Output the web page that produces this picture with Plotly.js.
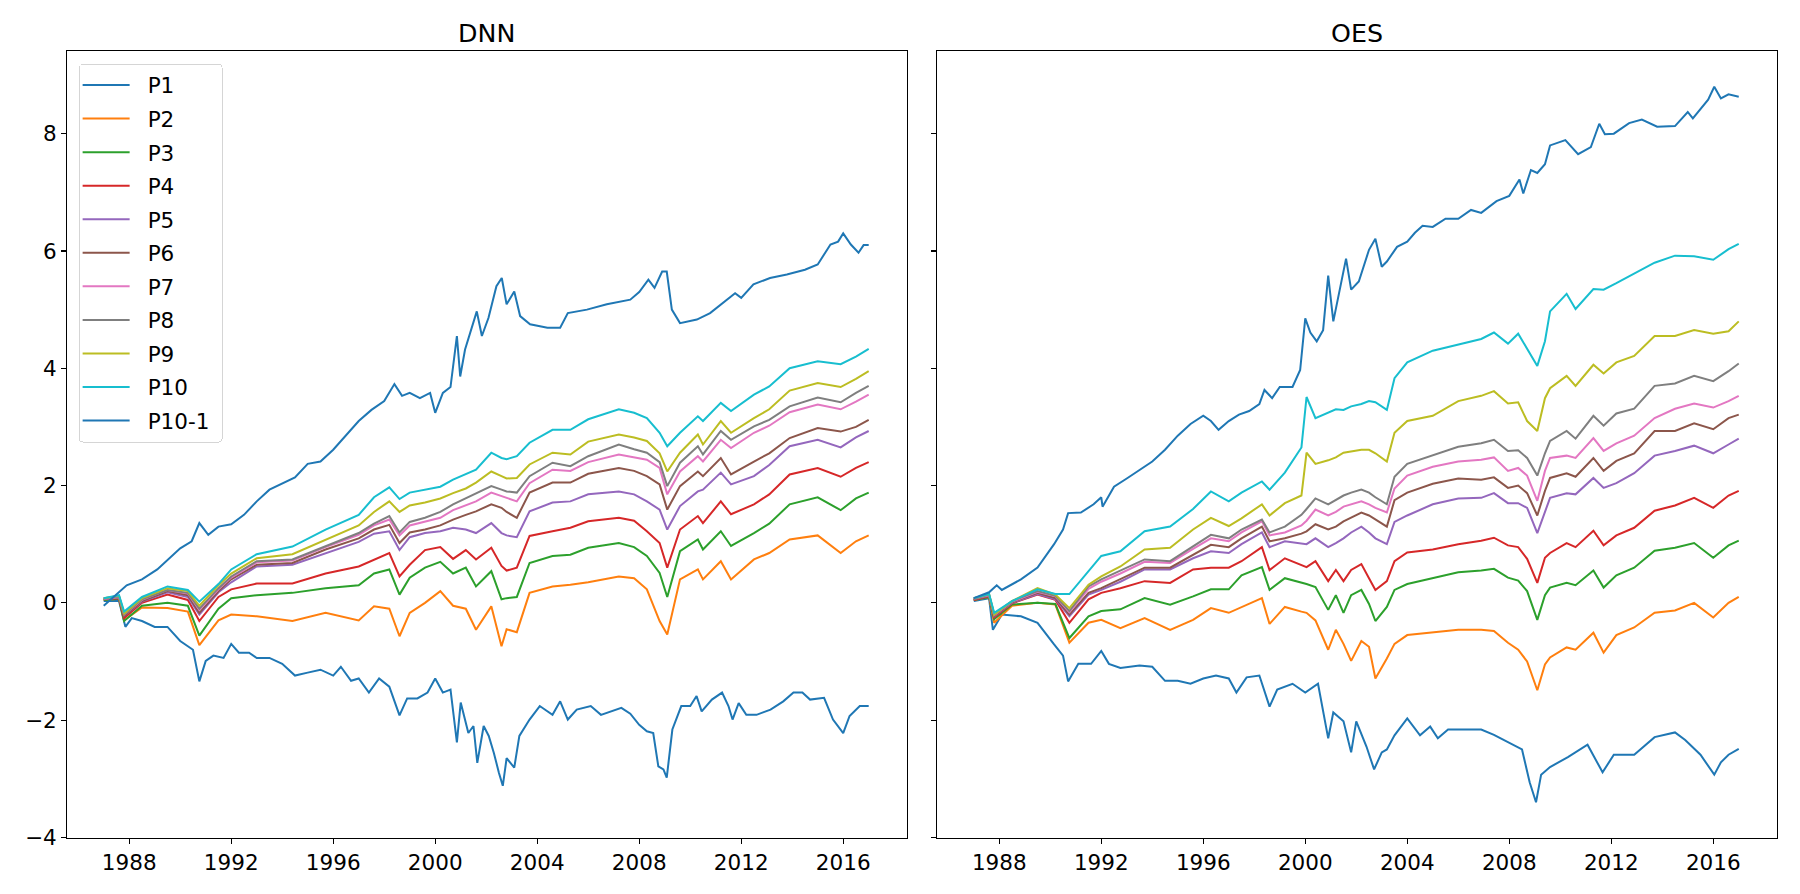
<!DOCTYPE html>
<html>
<head>
<meta charset="utf-8">
<script src="https://cdn.plot.ly/plotly-3.0.1.min.js"></script>
<style>html,body{margin:0;padding:0;background:#fff;}#chart{width:1800px;height:894px;}</style>
</head>
<body>
<div id="chart"></div>
<script>
// ---------------- DATA ----------------
const seriesNames = ['P1','P2','P3','P4','P5','P6','P7','P8','P9','P10','P10-1'];
const panelTitles = ['DNN','OES'];
const xTickVals = [1988,1992,1996,2000,2004,2008,2012,2016];
const xTickText = ['1988','1992','1996','2000','2004','2008','2012','2016'];
const yTickVals = [-4,-2,0,2,4,6,8];
const yTickText = ['\u22124','\u22122','0','2','4','6','8'];

// ---- DNN ----
const dnnP1Years = [1987.0,1987.6,1987.85,1988.1,1988.5,1989.0,1989.5,1990.0,1990.5,1990.75,1991.0,1991.3,1991.7,1992.0,1992.3,1992.7,1993.0,1993.5,1994.0,1994.5,1995.0,1995.5,1996.0,1996.3,1996.7,1997.0,1997.4,1997.8,1998.2,1998.6,1998.9,1999.3,1999.7,2000.0,2000.3,2000.6,2000.85,2001.0,2001.3,2001.5,2001.65,2001.9,2002.1,2002.3,2002.5,2002.65,2002.8,2003.1,2003.3,2003.7,2004.1,2004.6,2004.9,2005.2,2005.55,2006.1,2006.5,2007.3,2007.65,2008.0,2008.3,2008.55,2008.75,2008.95,2009.08,2009.3,2009.65,2010.0,2010.25,2010.45,2010.85,2011.25,2011.5,2011.66,2011.9,2012.2,2012.6,2013.15,2013.65,2014.05,2014.4,2014.7,2015.25,2015.6,2016.0,2016.25,2016.65,2017.0];
const dnnP1 = [0.03,0.03,-0.41,-0.26,-0.31,-0.41,-0.41,-0.65,-0.8,-1.34,-0.99,-0.9,-0.94,-0.7,-0.85,-0.85,-0.94,-0.94,-1.04,-1.24,-1.19,-1.14,-1.24,-1.09,-1.33,-1.29,-1.53,-1.29,-1.43,-1.92,-1.63,-1.63,-1.53,-1.29,-1.53,-1.48,-2.38,-1.7,-2.22,-2.1,-2.73,-2.1,-2.27,-2.56,-2.9,-3.12,-2.65,-2.81,-2.27,-1.99,-1.76,-1.91,-1.68,-1.99,-1.82,-1.76,-1.91,-1.79,-1.89,-2.08,-2.19,-2.22,-2.79,-2.84,-2.98,-2.16,-1.76,-1.76,-1.59,-1.85,-1.65,-1.53,-1.76,-1.99,-1.71,-1.91,-1.91,-1.82,-1.68,-1.53,-1.53,-1.65,-1.62,-1.99,-2.22,-1.93,-1.76,-1.76];

const dnnTopYears = [1987.0,1987.6,1987.9,1988.5,1989.1,1990.0,1990.45,1990.75,1991.1,1991.5,1992.0,1992.5,1993.0,1993.5,1994.0,1994.5,1995.0,1995.5,1996.0,1996.5,1997.0,1997.5,1998.0,1998.4,1998.7,1999.0,1999.4,1999.8,2000.0,2000.3,2000.6,2000.85,2000.98,2001.17,2001.63,2001.83,2002.09,2002.4,2002.61,2002.8,2003.1,2003.33,2003.72,2004.4,2004.9,2005.2,2005.95,2006.73,2007.65,2008.0,2008.36,2008.6,2008.9,2009.08,2009.28,2009.6,2010.26,2010.78,2011.44,2011.76,2012.0,2012.48,2013.13,2013.79,2014.5,2015.0,2015.5,2015.8,2016.0,2016.3,2016.6,2016.8,2017.0];
const dnnP10m1 = [-0.05,0.18,0.3,0.4,0.57,0.93,1.05,1.36,1.16,1.3,1.34,1.5,1.73,1.93,2.03,2.14,2.37,2.41,2.61,2.85,3.1,3.29,3.44,3.73,3.53,3.58,3.49,3.58,3.24,3.58,3.68,4.55,3.86,4.32,4.97,4.55,4.86,5.4,5.54,5.09,5.31,4.89,4.75,4.69,4.69,4.94,5.0,5.09,5.17,5.3,5.51,5.37,5.65,5.65,5.0,4.77,4.83,4.94,5.17,5.28,5.2,5.43,5.54,5.6,5.68,5.77,6.11,6.16,6.3,6.11,5.97,6.1,6.1];

const dnnMidYears = [1987.0,1987.6,1987.8,1988.5,1989.5,1990.3,1990.75,1991.5,1992.0,1993.0,1994.4,1995.7,1997.0,1997.6,1998.2,1998.6,1999.0,1999.6,2000.2,2000.7,2001.2,2001.6,2002.2,2002.6,2002.8,2003.2,2003.7,2004.6,2005.3,2006.0,2007.2,2007.8,2008.3,2008.8,2009.1,2009.6,2010.3,2010.5,2011.2,2011.6,2012.5,2013.1,2013.9,2015.0,2015.9,2016.5,2017.0];
const dnnP2 = [0.05,0.07,-0.3,-0.08,-0.09,-0.15,-0.72,-0.3,-0.2,-0.23,-0.31,-0.17,-0.3,-0.06,-0.1,-0.57,-0.17,0.0,0.2,-0.05,-0.1,-0.46,-0.06,-0.74,-0.45,-0.5,0.17,0.28,0.31,0.35,0.45,0.42,0.23,-0.31,-0.54,0.4,0.57,0.4,0.71,0.4,0.74,0.85,1.08,1.15,0.85,1.05,1.15];
const dnnP3 = [0.05,0.07,-0.31,-0.05,0.0,-0.05,-0.56,-0.1,0.08,0.13,0.17,0.25,0.3,0.5,0.57,0.14,0.43,0.6,0.7,0.5,0.6,0.28,0.54,0.06,0.08,0.1,0.68,0.8,0.82,0.94,1.02,0.95,0.8,0.51,0.1,0.88,1.08,0.91,1.22,0.97,1.19,1.35,1.68,1.8,1.58,1.78,1.88];
const dnnP4 = [0.06,0.08,-0.26,0.0,0.14,0.05,-0.31,0.1,0.23,0.33,0.33,0.5,0.62,0.74,0.85,0.45,0.65,0.9,0.95,0.75,0.9,0.74,0.94,0.63,0.55,0.6,1.14,1.22,1.28,1.39,1.45,1.4,1.22,1.02,0.6,1.25,1.48,1.36,1.73,1.51,1.68,1.85,2.19,2.3,2.15,2.3,2.4];
const dnnP5 = [0.06,0.09,-0.22,0.02,0.18,0.1,-0.2,0.18,0.35,0.62,0.65,0.85,1.04,1.18,1.22,0.9,1.12,1.19,1.22,1.28,1.25,1.19,1.36,1.19,1.15,1.12,1.56,1.71,1.73,1.85,1.9,1.85,1.73,1.59,1.25,1.65,1.9,1.93,2.22,2.02,2.16,2.35,2.67,2.78,2.65,2.82,2.93];
const dnnP6 = [0.07,0.1,-0.22,0.03,0.2,0.13,-0.17,0.2,0.4,0.65,0.68,0.91,1.1,1.25,1.33,1.02,1.2,1.25,1.32,1.42,1.5,1.56,1.68,1.62,1.55,1.45,1.88,2.05,2.05,2.2,2.3,2.25,2.16,2.02,1.59,1.99,2.24,2.16,2.47,2.19,2.41,2.55,2.81,2.98,2.92,3.0,3.12];
const dnnP7 = [0.07,0.1,-0.2,0.05,0.22,0.16,-0.12,0.23,0.43,0.69,0.72,0.95,1.16,1.32,1.42,1.15,1.32,1.38,1.45,1.58,1.66,1.73,1.88,1.82,1.78,1.73,2.04,2.27,2.25,2.4,2.53,2.48,2.44,2.3,1.85,2.24,2.5,2.41,2.78,2.64,2.9,3.02,3.25,3.38,3.3,3.43,3.55];
const dnnP8 = [0.08,0.11,-0.2,0.06,0.22,0.17,-0.1,0.25,0.45,0.71,0.74,0.97,1.19,1.35,1.48,1.2,1.38,1.45,1.55,1.68,1.78,1.87,1.99,1.93,1.9,1.88,2.16,2.39,2.33,2.5,2.7,2.62,2.56,2.4,1.99,2.39,2.67,2.53,2.93,2.78,3.01,3.12,3.35,3.5,3.42,3.58,3.7];
const dnnP9 = [0.08,0.12,-0.18,0.08,0.25,0.2,-0.05,0.3,0.5,0.76,0.83,1.08,1.32,1.55,1.73,1.55,1.66,1.71,1.78,1.87,1.95,2.05,2.24,2.16,2.12,2.13,2.36,2.56,2.53,2.75,2.87,2.82,2.76,2.55,2.24,2.56,2.87,2.7,3.1,2.9,3.15,3.3,3.62,3.75,3.68,3.82,3.95];
const dnnP10 = [0.08,0.13,-0.15,0.1,0.28,0.22,0.02,0.32,0.57,0.83,0.96,1.25,1.5,1.8,1.97,1.77,1.88,1.93,1.98,2.1,2.2,2.27,2.56,2.47,2.45,2.5,2.73,2.95,2.95,3.13,3.3,3.24,3.15,2.9,2.67,2.9,3.18,3.1,3.41,3.27,3.55,3.69,4.0,4.12,4.07,4.2,4.33];

// ---- OES ----
const oesP1Years = [1987.0,1987.6,1987.75,1988.1,1988.85,1989.5,1990.15,1990.5,1990.7,1991.1,1991.6,1992.0,1992.3,1992.75,1993.5,1994.0,1994.5,1995.0,1995.5,1996.0,1996.5,1997.0,1997.3,1997.7,1998.2,1998.6,1998.9,1999.5,2000.0,2000.5,2000.9,2001.1,2001.5,2001.8,2002.0,2002.4,2002.7,2003.0,2003.2,2003.5,2004.0,2004.5,2004.9,2005.2,2005.6,2006.2,2006.9,2007.4,2007.95,2008.5,2008.8,2009.05,2009.25,2009.6,2010.3,2011.07,2011.66,2012.1,2012.9,2013.7,2014.5,2014.9,2015.5,2016.04,2016.3,2016.6,2017.0];
const oesP1 = [0.03,0.08,-0.46,-0.2,-0.23,-0.34,-0.71,-0.9,-1.34,-1.04,-1.04,-0.82,-1.04,-1.11,-1.07,-1.09,-1.33,-1.33,-1.38,-1.29,-1.24,-1.29,-1.53,-1.27,-1.24,-1.77,-1.48,-1.38,-1.53,-1.38,-2.31,-1.87,-2.02,-2.55,-2.02,-2.45,-2.84,-2.55,-2.5,-2.26,-1.97,-2.26,-2.11,-2.31,-2.16,-2.16,-2.16,-2.25,-2.38,-2.5,-3.06,-3.4,-2.93,-2.8,-2.63,-2.42,-2.89,-2.59,-2.59,-2.29,-2.21,-2.34,-2.59,-2.93,-2.72,-2.59,-2.49];

const oesTopYears = [1987.0,1987.6,1987.9,1988.1,1988.85,1989.5,1990.15,1990.5,1990.7,1991.2,1991.7,1992.0,1992.05,1992.5,1993.0,1993.5,1994.0,1994.5,1995.0,1995.5,1996.0,1996.3,1996.6,1997.0,1997.4,1997.8,1998.2,1998.4,1998.7,1999.0,1999.5,1999.8,2000.0,2000.2,2000.45,2000.7,2000.9,2001.1,2001.3,2001.6,2001.8,2002.1,2002.5,2002.75,2003.0,2003.2,2003.6,2004.0,2004.3,2004.6,2005.0,2005.5,2006.0,2006.5,2006.9,2007.5,2008.0,2008.4,2008.55,2008.85,2009.1,2009.4,2009.6,2010.2,2010.7,2011.2,2011.53,2011.75,2012.1,2012.7,2013.2,2013.8,2014.5,2015.0,2015.2,2015.8,2016.04,2016.3,2016.6,2017.0];
const oesP10m1 = [0.08,0.18,0.3,0.22,0.4,0.6,1.0,1.25,1.53,1.54,1.68,1.8,1.64,1.98,2.12,2.27,2.41,2.61,2.85,3.05,3.19,3.1,2.95,3.1,3.21,3.27,3.39,3.63,3.49,3.68,3.68,3.97,4.85,4.61,4.46,4.65,5.58,4.8,5.24,5.87,5.34,5.48,6.02,6.21,5.73,5.82,6.07,6.16,6.31,6.43,6.41,6.55,6.55,6.7,6.65,6.85,6.94,7.22,6.98,7.38,7.33,7.48,7.8,7.89,7.65,7.77,8.17,7.99,8.0,8.18,8.24,8.12,8.13,8.37,8.26,8.58,8.8,8.6,8.67,8.63];

const oesMidYears = [1987.0,1987.6,1987.8,1988.5,1989.5,1990.2,1990.75,1991.5,1992.0,1992.75,1993.7,1994.7,1995.6,1996.3,1997.0,1997.5,1998.3,1998.6,1999.2,1999.85,2000.05,2000.4,2000.9,2001.2,2001.5,2001.8,2002.2,2002.5,2002.75,2003.2,2003.5,2004.0,2005.0,2006.0,2006.9,2007.4,2007.95,2008.35,2008.7,2009.1,2009.4,2009.6,2010.25,2010.6,2011.3,2011.7,2012.2,2012.9,2013.7,2014.5,2015.25,2016.0,2016.6,2017.0];
const oesP2 = [0.05,0.1,-0.34,-0.05,0.0,-0.03,-0.68,-0.34,-0.29,-0.43,-0.26,-0.46,-0.29,-0.09,-0.17,-0.07,0.08,-0.36,-0.07,-0.15,-0.17,-0.3,-0.8,-0.46,-0.7,-0.99,-0.65,-0.75,-1.29,-0.95,-0.7,-0.55,-0.51,-0.46,-0.46,-0.48,-0.68,-0.8,-1.0,-1.49,-1.05,-0.93,-0.76,-0.8,-0.51,-0.85,-0.55,-0.42,-0.17,-0.13,0.0,-0.25,0.0,0.1];
const oesP3 = [0.05,0.1,-0.28,-0.03,0.0,-0.02,-0.6,-0.23,-0.14,-0.11,0.08,-0.03,0.11,0.23,0.23,0.47,0.61,0.22,0.42,0.35,0.32,0.27,-0.12,0.13,-0.17,0.13,0.22,-0.02,-0.31,-0.07,0.22,0.32,0.42,0.52,0.55,0.58,0.43,0.38,0.2,-0.29,0.13,0.26,0.34,0.3,0.55,0.26,0.47,0.6,0.89,0.94,1.02,0.77,0.98,1.06];
const oesP4 = [0.05,0.11,-0.25,-0.01,0.14,0.05,-0.34,0.06,0.17,0.25,0.37,0.34,0.57,0.6,0.6,0.71,0.95,0.56,0.76,0.65,0.61,0.71,0.37,0.56,0.37,0.56,0.66,0.42,0.22,0.37,0.71,0.86,0.91,1.0,1.06,1.11,0.98,0.95,0.75,0.34,0.77,0.85,1.02,0.95,1.23,0.98,1.15,1.28,1.57,1.66,1.79,1.62,1.83,1.91];
const oesP5 = [0.06,0.12,-0.23,0.0,0.15,0.06,-0.23,0.14,0.22,0.36,0.57,0.57,0.76,0.88,0.85,1.0,1.2,0.95,1.05,1.02,1.0,1.1,0.95,1.02,1.1,1.2,1.3,1.2,1.1,1.0,1.38,1.49,1.68,1.78,1.79,1.87,1.7,1.7,1.62,1.19,1.57,1.79,1.87,1.85,2.13,1.96,2.04,2.21,2.51,2.59,2.68,2.55,2.7,2.8];
const oesP6 = [0.06,0.12,-0.22,0.01,0.17,0.08,-0.2,0.17,0.25,0.4,0.6,0.6,0.82,0.99,0.95,1.1,1.3,1.05,1.1,1.18,1.22,1.34,1.25,1.3,1.39,1.45,1.54,1.49,1.42,1.3,1.75,1.88,2.03,2.12,2.1,2.14,1.96,2.0,1.87,1.49,1.91,2.13,2.21,2.15,2.47,2.25,2.42,2.55,2.93,2.93,3.06,2.96,3.15,3.21];
const oesP7 = [0.07,0.13,-0.21,0.02,0.19,0.11,-0.16,0.24,0.36,0.5,0.7,0.68,0.92,1.1,1.05,1.2,1.39,1.15,1.2,1.32,1.4,1.59,1.49,1.55,1.64,1.68,1.73,1.68,1.62,1.54,1.95,2.17,2.32,2.41,2.44,2.48,2.25,2.3,2.17,1.74,2.25,2.47,2.51,2.47,2.81,2.59,2.72,2.85,3.15,3.31,3.4,3.33,3.44,3.53];
const oesP8 = [0.07,0.14,-0.2,0.03,0.2,0.12,-0.14,0.28,0.4,0.55,0.74,0.71,0.97,1.16,1.1,1.25,1.42,1.2,1.3,1.5,1.6,1.78,1.68,1.75,1.83,1.88,1.93,1.88,1.8,1.68,2.15,2.37,2.51,2.66,2.72,2.78,2.59,2.6,2.47,2.17,2.55,2.76,2.93,2.8,3.19,3.02,3.23,3.31,3.7,3.74,3.87,3.78,3.95,4.08];
const oesP9 = [0.08,0.15,-0.2,0.03,0.25,0.14,-0.09,0.31,0.45,0.62,0.91,0.94,1.25,1.45,1.31,1.44,1.68,1.49,1.7,1.83,2.56,2.37,2.43,2.48,2.56,2.58,2.61,2.61,2.55,2.41,2.9,3.1,3.19,3.44,3.53,3.61,3.4,3.42,3.1,2.93,3.49,3.66,3.87,3.7,4.06,3.91,4.1,4.21,4.55,4.55,4.65,4.59,4.63,4.8];
const oesP10 = [0.08,0.15,-0.17,0.03,0.23,0.15,0.15,0.54,0.8,0.88,1.22,1.3,1.6,1.9,1.73,1.88,2.07,1.93,2.22,2.65,3.51,3.15,3.25,3.3,3.29,3.35,3.39,3.44,3.42,3.29,3.83,4.1,4.3,4.41,4.5,4.61,4.42,4.59,4.34,4.04,4.46,4.97,5.27,5.01,5.35,5.34,5.45,5.62,5.8,5.92,5.91,5.85,6.03,6.12];

// ---------------- STYLE ----------------
const colors = ['#1f77b4','#ff7f0e','#2ca02c','#d62728','#9467bd','#8c564b','#e377c2','#7f7f7f','#bcbd22','#17becf','#1f77b4'];

const panels = [
  {xs: [dnnP1Years, dnnMidYears, dnnMidYears, dnnMidYears, dnnMidYears, dnnMidYears, dnnMidYears, dnnMidYears, dnnMidYears, dnnMidYears, dnnTopYears],
   ys: [dnnP1, dnnP2, dnnP3, dnnP4, dnnP5, dnnP6, dnnP7, dnnP8, dnnP9, dnnP10, dnnP10m1], xa: 'x', ya: 'y', legend: true},
  {xs: [oesP1Years, oesMidYears, oesMidYears, oesMidYears, oesMidYears, oesMidYears, oesMidYears, oesMidYears, oesMidYears, oesMidYears, oesTopYears],
   ys: [oesP1, oesP2, oesP3, oesP4, oesP5, oesP6, oesP7, oesP8, oesP9, oesP10, oesP10m1], xa: 'x2', ya: 'y2', legend: false}
];

const traces = [];
panels.forEach(p => {
  seriesNames.forEach((name, i) => {
    traces.push({
      type: 'scatter', mode: 'lines', name: name,
      x: p.xs[i], y: p.ys[i], xaxis: p.xa, yaxis: p.ya,
      line: {color: colors[i], width: 2},
      showlegend: p.legend, legendgroup: 'g' + i, hoverinfo: 'skip'
    });
  });
});

const FONT = 'DejaVu Sans, Liberation Sans, sans-serif';
const axisCommon = {
  showgrid: false, zeroline: false, showline: true, mirror: true,
  linecolor: '#000', linewidth: 1.1, ticks: 'outside', ticklen: 5, tickwidth: 1.1, tickcolor: '#000',
  tickfont: {family: FONT, size: 21.5, color: '#000'}
};
const xCommon = Object.assign({}, axisCommon, {range: [1985.56, 2018.5], tickmode: 'array', tickvals: xTickVals, ticktext: xTickText});
const yCommon = Object.assign({}, axisCommon, {range: [-4.01, 9.41], tickmode: 'array', tickvals: yTickVals, ticktext: yTickText});

const dom1 = [0, 0.4912], dom2 = [0.5088, 1];
const layout = {
  width: 1800, height: 894,
  margin: {l: 66.7, r: 23.3, t: 51.4, b: 55.5, pad: 0},
  paper_bgcolor: '#fff', plot_bgcolor: '#fff',
  font: {family: FONT, size: 21.5, color: '#000'},
  showlegend: true,
  legend: {x: 0.0068, y: 0.984, xanchor: 'left', yanchor: 'top', bgcolor: 'rgba(255,255,255,0.8)',
           bordercolor: '#d5d5d5', borderwidth: 1, font: {family: FONT, size: 21.5, color: '#000'},
           traceorder: 'grouped', tracegroupgap: 2.6, itemwidth: 47},
  xaxis: Object.assign({}, xCommon, {domain: dom1, anchor: 'y'}),
  yaxis: Object.assign({}, yCommon, {domain: [0, 1], anchor: 'x'}),
  xaxis2: Object.assign({}, xCommon, {domain: dom2, anchor: 'y2'}),
  yaxis2: Object.assign({}, yCommon, {domain: [0, 1], anchor: 'x2', showticklabels: false}),
  annotations: panelTitles.map((t, k) => ({
    text: t, xref: 'paper', yref: 'paper', x: k === 0 ? (dom1[0] + dom1[1]) / 2 : (dom2[0] + dom2[1]) / 2,
    y: 1, xanchor: 'center', yanchor: 'bottom', yshift: 1, showarrow: false,
    font: {family: FONT, size: 25.3, color: '#000'}
  }))
};

Plotly.newPlot('chart', traces, layout, {staticPlot: true, displayModeBar: false}).then(gd => {
  // matplotlib-like legend handles: longer line sample, text further right
  const leg = gd.querySelector('g.legend');
  if (!leg) return;
  const LINE_START = 3, LINE_LEN = 47, TEXT_X = 68, BOX_W = 143;
  leg.querySelectorAll('g.traces').forEach(tr => {
    tr.querySelectorAll('.legendlines path').forEach(p => p.setAttribute('d', 'M' + LINE_START + ',0h' + LINE_LEN));
    const t = tr.querySelector('text.legendtext');
    if (t) {
      t.setAttribute('x', TEXT_X);
      t.querySelectorAll('tspan').forEach(s => { if (s.hasAttribute('x')) s.setAttribute('x', TEXT_X); });
    }
  });
  const bg = leg.querySelector('rect.bg');
  if (bg) { bg.setAttribute('width', BOX_W); bg.setAttribute('rx', 4); bg.setAttribute('ry', 4); }
  document.querySelectorAll('clipPath').forEach(cp => {
    if ((cp.id || '').indexOf('legend') >= 0) cp.querySelectorAll('rect').forEach(r => r.setAttribute('width', BOX_W + 10));
  });
});
</script>
</body>
</html>
